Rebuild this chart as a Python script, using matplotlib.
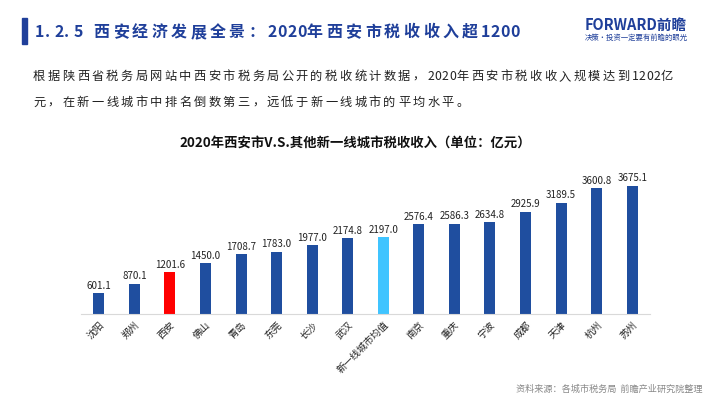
import matplotlib
matplotlib.use("Agg")
import matplotlib.pyplot as plt
import numpy as np

plt.rcParams['font.family'] = ['Noto Sans CJK SC', 'DejaVu Sans']

# data
cities = ['沈阳', '郑州', '西安', '佛山', '青岛', '东莞', '长沙', '武汉', '新一线城市均值',
          '南京', '重庆', '宁波', '成都', '天津', '杭州', '苏州']
tax = [601.1, 870.1, 1201.6, 1450.0, 1708.7, 1783.0, 1977.0, 2174.8, 2197.0,
       2576.4, 2586.3, 2634.8, 2925.9, 3189.5, 3600.8, 3675.1]

dark = '#1f4e9f'
colors = [dark] * len(cities)
colors[2] = '#ff0000'
colors[8] = '#40c4ff'

W, H = 710, 399
fig = plt.figure(figsize=(7.1, 3.99), dpi=100)


def spaced(x, y, s, size, adv, **kw):
    # one char at a time so the letter spacing matches; y is the visual middle
    base = y + size * 1.389 * 0.38
    cur = x
    for ch in s:
        fig.text(cur / W, 1 - base / H, ch, fontsize=size, va='baseline', ha='left', **kw)
        cur += adv if ord(ch) > 255 else adv * 0.5


# header
fig.patches.append(plt.Rectangle((22/W, 1-44/H), 5/W, 26/H,
                                 transform=fig.transFigure, color='#1f3f9a'))
spaced(35, 31, '1.2.5 西安经济发展全景：2020年西安市税收收入超1200', 11.5, 19.4,
       fontweight='bold', color='#1f3f9a')
fig.text(585/W, 1-25/H, 'FORWARD前瞻', fontsize=10.5, fontweight='bold',
         color='#1f3f9a', va='center')
fig.text(585/W, 1-38/H, '决策·投资一定要有前瞻的眼光', fontsize=5.3,
         color='#1f3f9a', va='center')

# paragraph
spaced(33, 75, '根据陕西省税务局网站中西安市税务局公开的税收统计数据，2020年西安市税收收入规模达到1202亿',
       8.8, 14.6, color='#222222')
spaced(33, 101, '元，在新一线城市中排名倒数第三，远低于新一线城市的平均水平。',
       8.8, 14.6, color='#222222')

# chart title
fig.text(355/W, 1-143/H, '2020年西安市V.S.其他新一线城市税收收入（单位：亿元）',
         fontsize=9.6, fontweight='bold', color='#111111', ha='center', va='center')

ax = fig.add_axes([81/W, 1-314/H, 569/W, 139.6/H])
x = np.arange(len(cities))
ax.bar(x, tax, width=0.31, color=colors)
for xi, v in zip(x, tax):
    ax.text(xi, v + 70, f'{v:.1f}', ha='center', va='bottom', fontsize=7,
            color='#222222')
ax.set_xlim(-0.5, len(cities) - 0.5)
ax.set_ylim(0, 4000)
ax.set_xticks(x)
ax.set_xticklabels(cities, rotation=45, ha='right', rotation_mode='anchor',
                   fontsize=7, color='#222222')
ax.tick_params(axis='x', length=0, pad=4)
ax.set_yticks([])
for s in ['top', 'right', 'left']:
    ax.spines[s].set_visible(False)
ax.spines['bottom'].set_color('#d9d9d9')

# source
fig.text(702/W, 1-389/H, '资料来源：各城市税务局  前瞻产业研究院整理', fontsize=6.6,
         color='#888888', ha='right', va='center')

fig.savefig('out.png', dpi=100)
